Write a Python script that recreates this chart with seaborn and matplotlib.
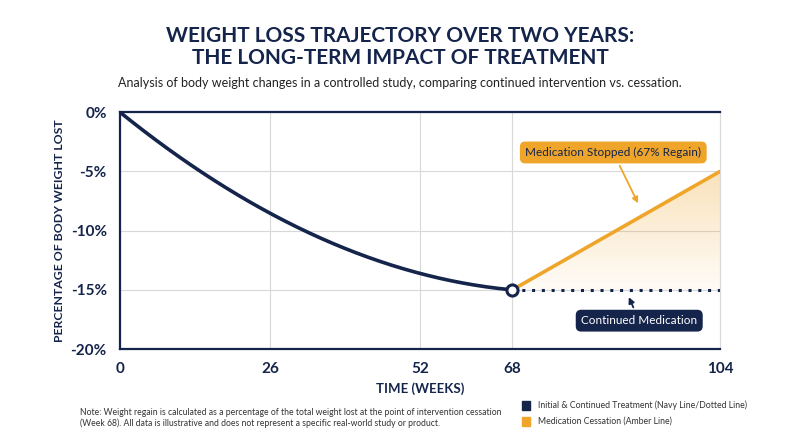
import matplotlib
matplotlib.use("Agg")
import matplotlib.pyplot as plt
import seaborn as sns
import numpy as np
from matplotlib.colors import LinearSegmentedColormap

weeks_treat = [0, 4, 13.4, 26, 41, 52, 60, 68]
loss_treat = [0, -1.5, -4.9, -8.5, -11.9, -13.6, -14.6, -15.0]
weeks_after = [68, 104]
loss_stopped = [-15.0, -5.0]
loss_continued = [-15.0, -15.0]
xticks = [0, 26, 52, 68, 104]
yticks = [0, -5, -10, -15, -20]

NAVY = "#14244a"
AMBER = "#eea52a"

sns.set_theme(style="whitegrid")
plt.rcParams['font.family'] = ['Lato', 'DejaVu Sans']

fig = plt.figure(figsize=(8, 4.47), dpi=100)
ax = fig.add_axes([0.15, 0.219, 0.75, 0.53])

coef = np.polyfit(weeks_treat, loss_treat, 3)
x_s = np.linspace(0, 68, 200)
y_s = np.polyval(coef, x_s)
y_s = y_s - np.polyval(coef, 0) * (1 - x_s / 68) - (np.polyval(coef, 68) + 15) * (x_s / 68)
sns.lineplot(x=x_s, y=y_s, color=NAVY, lw=2.6, ax=ax)
sns.lineplot(x=weeks_after, y=loss_stopped, color=AMBER, lw=2.6, ax=ax)
sns.lineplot(x=weeks_after, y=loss_continued, color=NAVY, lw=2.2, ls=(0, (1, 2.2)), ax=ax)

cmap = LinearSegmentedColormap.from_list("g", [(0.933, 0.647, 0.165, 0.04), (0.933, 0.647, 0.165, 0.32)])
grad = np.linspace(0, 1, 100).reshape(-1, 1)
poly = ax.fill_between(weeks_after, loss_continued, loss_stopped, color='none', lw=0)
im = ax.imshow(grad, cmap=cmap, aspect='auto', origin='lower',
               extent=[68, 104, -15, -5], zorder=1)
im.set_clip_path(poly.get_paths()[0], transform=ax.transData)
ax.plot([68], [-15], marker='o', ms=8, mfc='white', mec=NAVY, mew=2.2, zorder=5)

ax.set_xlim(0, 104)
ax.set_ylim(-20, 0)
ax.set_xticks(xticks)
ax.set_yticks(yticks)
ax.set_yticklabels([f"{t}%" for t in yticks])
ax.tick_params(labelsize=11, colors=NAVY)
for lab in ax.get_xticklabels() + ax.get_yticklabels():
    lab.set_fontweight('bold')
ax.grid(color="#d8d8d8", lw=0.8)
ax.spines["right"].set_color("#d8d8d8")
ax.spines["right"].set_linewidth(0.8)
for s in ["left", "bottom", "top"]:
    ax.spines[s].set_color(NAVY)
    ax.spines[s].set_linewidth(1.6)
ax.set_xlabel("TIME (WEEKS)", fontsize=9.5, fontweight='bold', color=NAVY)
ax.set_ylabel("PERCENTAGE OF BODY WEIGHT LOST", fontsize=8.8, fontweight='bold', color=NAVY)

ax.annotate("Medication Stopped (67% Regain)", xy=(90, -7.9), xytext=(85.5, -3.4),
            ha='center', va='center', fontsize=8.5, color=NAVY,
            bbox=dict(boxstyle="round,pad=0.4", fc=AMBER, ec=AMBER),
            arrowprops=dict(arrowstyle="-|>", color=AMBER, lw=1.3))
ax.annotate("Continued Medication", xy=(88, -15.4), xytext=(90, -17.6),
            ha='center', va='center', fontsize=8.5, color='white',
            bbox=dict(boxstyle="round,pad=0.4", fc=NAVY, ec=NAVY),
            arrowprops=dict(arrowstyle="-|>", color=NAVY, lw=1.3))

fig.text(0.5, 0.895, "WEIGHT LOSS TRAJECTORY OVER TWO YEARS:\nTHE LONG-TERM IMPACT OF TREATMENT",
         ha='center', va='center', fontsize=15, fontweight='bold', color=NAVY, linespacing=1.1)
fig.text(0.5, 0.815, "Analysis of body weight changes in a controlled study, comparing continued intervention vs. cessation.",
         ha='center', va='center', fontsize=9, color="#222222")
fig.text(0.1, 0.065, "Note: Weight regain is calculated as a percentage of the total weight lost at the point of intervention cessation\n(Week 68). All data is illustrative and does not represent a specific real-world study or product.",
         ha='left', va='center', fontsize=6.2, color="#333333")
fig.patches.append(plt.Rectangle((0.652, 0.083), 0.011, 0.02, color=NAVY, transform=fig.transFigure))
fig.patches.append(plt.Rectangle((0.652, 0.047), 0.011, 0.02, color=AMBER, transform=fig.transFigure))
fig.text(0.672, 0.093, "Initial & Continued Treatment (Navy Line/Dotted Line)", fontsize=6.3, va='center', color="#333333")
fig.text(0.672, 0.057, "Medication Cessation (Amber Line)", fontsize=6.3, va='center', color="#333333")

fig.savefig("out.png", dpi=100, facecolor='white')
